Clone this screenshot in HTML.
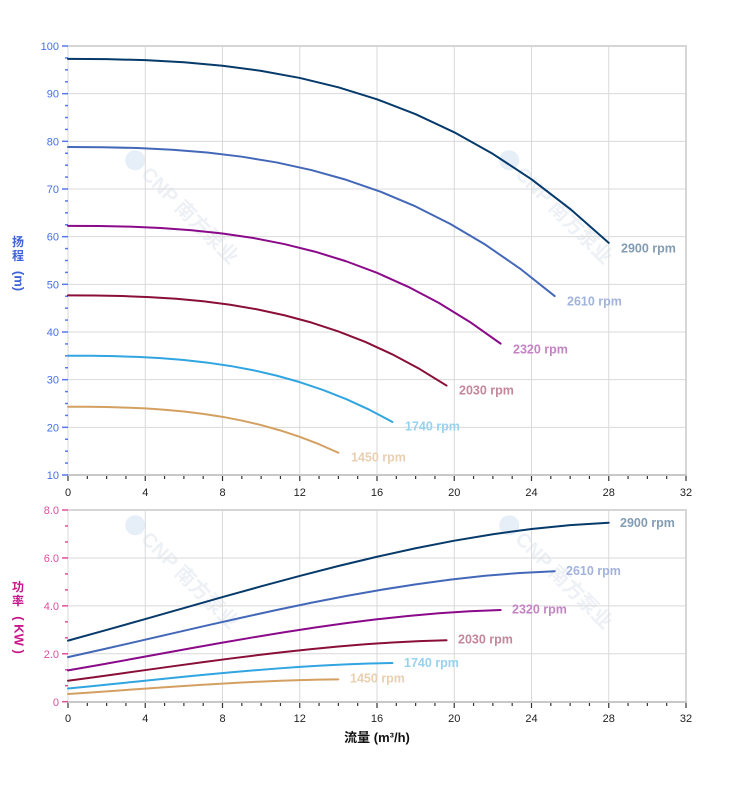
<!DOCTYPE html>
<html><head><meta charset="utf-8"><style>
html,body{margin:0;padding:0;background:#fff;}
svg{display:block;}
text{font-family:"Liberation Sans","Noto Sans CJK SC",sans-serif;}
</style></head><body>
<svg width="752" height="797" viewBox="0 0 752 797" xmlns="http://www.w3.org/2000/svg">
<rect width="752" height="797" fill="#fff"/>

<!-- watermarks -->
<g fill="#edf1f6" font-weight="bold" font-size="20">
  <g transform="translate(126,161) rotate(45)"><circle cx="6" cy="-7" r="10" fill="#e6eff8"/><text x="20" y="0">CNP 南方泵业</text></g>
  <g transform="translate(500,161) rotate(45)"><circle cx="6" cy="-7" r="10" fill="#e6eff8"/><text x="20" y="0">CNP 南方泵业</text></g>
  <g transform="translate(126,526) rotate(45)"><circle cx="6" cy="-7" r="10" fill="#e6eff8"/><text x="20" y="0">CNP 南方泵业</text></g>
  <g transform="translate(500,526) rotate(45)"><circle cx="6" cy="-7" r="10" fill="#e6eff8"/><text x="20" y="0">CNP 南方泵业</text></g>
</g>

<!-- TOP grid -->
<g stroke="#d9d9d9" stroke-width="1">
  <line x1="68" y1="93.67" x2="686" y2="93.67"/>
  <line x1="68" y1="141.33" x2="686" y2="141.33"/>
  <line x1="68" y1="189" x2="686" y2="189"/>
  <line x1="68" y1="236.67" x2="686" y2="236.67"/>
  <line x1="68" y1="284.33" x2="686" y2="284.33"/>
  <line x1="68" y1="332" x2="686" y2="332"/>
  <line x1="68" y1="379.67" x2="686" y2="379.67"/>
  <line x1="68" y1="427.33" x2="686" y2="427.33"/>
  <line x1="68" y1="46" x2="68" y2="475"/>
  <line x1="145.25" y1="46" x2="145.25" y2="475"/>
  <line x1="222.5" y1="46" x2="222.5" y2="475"/>
  <line x1="299.75" y1="46" x2="299.75" y2="475"/>
  <line x1="377" y1="46" x2="377" y2="475"/>
  <line x1="454.25" y1="46" x2="454.25" y2="475"/>
  <line x1="531.5" y1="46" x2="531.5" y2="475"/>
  <line x1="608.75" y1="46" x2="608.75" y2="475"/>
</g>
<g stroke="#d6d6d6" stroke-width="2" fill="none">
  <line x1="68" y1="46" x2="687" y2="46"/>
  <line x1="686" y1="46" x2="686" y2="475"/>
  <line x1="67" y1="475" x2="687" y2="475" stroke="#c8c8c8"/>
</g>

<!-- BOTTOM grid -->
<g stroke="#d9d9d9" stroke-width="1">
  <line x1="68" y1="557.94" x2="686" y2="557.94"/>
  <line x1="68" y1="605.86" x2="686" y2="605.86"/>
  <line x1="68" y1="653.78" x2="686" y2="653.78"/>
  <line x1="68" y1="510" x2="68" y2="702"/>
  <line x1="145.25" y1="510" x2="145.25" y2="702"/>
  <line x1="222.5" y1="510" x2="222.5" y2="702"/>
  <line x1="299.75" y1="510" x2="299.75" y2="702"/>
  <line x1="377" y1="510" x2="377" y2="702"/>
  <line x1="454.25" y1="510" x2="454.25" y2="702"/>
  <line x1="531.5" y1="510" x2="531.5" y2="702"/>
  <line x1="608.75" y1="510" x2="608.75" y2="702"/>
</g>
<g stroke="#d6d6d6" stroke-width="2" fill="none">
  <line x1="68" y1="510" x2="687" y2="510"/>
  <line x1="686" y1="510" x2="686" y2="702"/>
  <line x1="67" y1="702" x2="687" y2="702" stroke="#c8c8c8"/>
</g>

<!-- TOP y ticks -->
<g stroke="#5a78ea" stroke-width="1.5">
  <line x1="62" y1="46" x2="68" y2="46"/><line x1="65" y1="57.92" x2="68" y2="57.92"/><line x1="65" y1="69.83" x2="68" y2="69.83"/><line x1="65" y1="81.75" x2="68" y2="81.75"/>
  <line x1="62" y1="93.67" x2="68" y2="93.67"/><line x1="65" y1="105.58" x2="68" y2="105.58"/><line x1="65" y1="117.5" x2="68" y2="117.5"/><line x1="65" y1="129.42" x2="68" y2="129.42"/>
  <line x1="62" y1="141.33" x2="68" y2="141.33"/><line x1="65" y1="153.25" x2="68" y2="153.25"/><line x1="65" y1="165.17" x2="68" y2="165.17"/><line x1="65" y1="177.08" x2="68" y2="177.08"/>
  <line x1="62" y1="189" x2="68" y2="189"/><line x1="65" y1="200.92" x2="68" y2="200.92"/><line x1="65" y1="212.83" x2="68" y2="212.83"/><line x1="65" y1="224.75" x2="68" y2="224.75"/>
  <line x1="62" y1="236.67" x2="68" y2="236.67"/><line x1="65" y1="248.58" x2="68" y2="248.58"/><line x1="65" y1="260.5" x2="68" y2="260.5"/><line x1="65" y1="272.42" x2="68" y2="272.42"/>
  <line x1="62" y1="284.33" x2="68" y2="284.33"/><line x1="65" y1="296.25" x2="68" y2="296.25"/><line x1="65" y1="308.17" x2="68" y2="308.17"/><line x1="65" y1="320.08" x2="68" y2="320.08"/>
  <line x1="62" y1="332" x2="68" y2="332"/><line x1="65" y1="343.92" x2="68" y2="343.92"/><line x1="65" y1="355.83" x2="68" y2="355.83"/><line x1="65" y1="367.75" x2="68" y2="367.75"/>
  <line x1="62" y1="379.67" x2="68" y2="379.67"/><line x1="65" y1="391.58" x2="68" y2="391.58"/><line x1="65" y1="403.5" x2="68" y2="403.5"/><line x1="65" y1="415.42" x2="68" y2="415.42"/>
  <line x1="62" y1="427.33" x2="68" y2="427.33"/><line x1="65" y1="439.25" x2="68" y2="439.25"/><line x1="65" y1="451.17" x2="68" y2="451.17"/><line x1="65" y1="463.08" x2="68" y2="463.08"/>
  <line x1="62" y1="475" x2="68" y2="475"/>
</g>
<g fill="#4a6ee8" font-size="11" text-anchor="end">
  <text x="59" y="50">100</text><text x="59" y="97.7">90</text><text x="59" y="145.3">80</text><text x="59" y="193">70</text>
  <text x="59" y="240.7">60</text><text x="59" y="288.3">50</text><text x="59" y="336">40</text><text x="59" y="383.7">30</text>
  <text x="59" y="431.3">20</text><text x="59" y="479">10</text>
</g>

<!-- BOTTOM y ticks -->
<g stroke="#e0509a" stroke-width="1.5">
  <line x1="62" y1="510" x2="68" y2="510"/><line x1="65" y1="525.97" x2="68" y2="525.97"/><line x1="65" y1="541.95" x2="68" y2="541.95"/>
  <line x1="62" y1="557.94" x2="68" y2="557.94"/><line x1="65" y1="573.91" x2="68" y2="573.91"/><line x1="65" y1="589.88" x2="68" y2="589.88"/>
  <line x1="62" y1="605.86" x2="68" y2="605.86"/><line x1="65" y1="621.83" x2="68" y2="621.83"/><line x1="65" y1="637.8" x2="68" y2="637.8"/>
  <line x1="62" y1="653.78" x2="68" y2="653.78"/><line x1="65" y1="669.75" x2="68" y2="669.75"/><line x1="65" y1="685.72" x2="68" y2="685.72"/>
  <line x1="62" y1="701.7" x2="68" y2="701.7"/>
</g>
<g fill="#de4f9b" font-size="11" text-anchor="end">
  <text x="59" y="514">8.0</text><text x="59" y="562">6.0</text><text x="59" y="610">4.0</text><text x="59" y="658">2.0</text><text x="59" y="706">0</text>
</g>

<!-- X ticks top -->
<g stroke="#333" stroke-width="1.2">
  <line x1="68" y1="476" x2="68" y2="481"/><line x1="87.31" y1="476" x2="87.31" y2="479"/><line x1="106.63" y1="476" x2="106.63" y2="479"/><line x1="125.94" y1="476" x2="125.94" y2="479"/>
  <line x1="145.25" y1="476" x2="145.25" y2="481"/><line x1="164.56" y1="476" x2="164.56" y2="479"/><line x1="183.88" y1="476" x2="183.88" y2="479"/><line x1="203.19" y1="476" x2="203.19" y2="479"/>
  <line x1="222.5" y1="476" x2="222.5" y2="481"/><line x1="241.81" y1="476" x2="241.81" y2="479"/><line x1="261.13" y1="476" x2="261.13" y2="479"/><line x1="280.44" y1="476" x2="280.44" y2="479"/>
  <line x1="299.75" y1="476" x2="299.75" y2="481"/><line x1="319.06" y1="476" x2="319.06" y2="479"/><line x1="338.38" y1="476" x2="338.38" y2="479"/><line x1="357.69" y1="476" x2="357.69" y2="479"/>
  <line x1="377" y1="476" x2="377" y2="481"/><line x1="396.31" y1="476" x2="396.31" y2="479"/><line x1="415.63" y1="476" x2="415.63" y2="479"/><line x1="434.94" y1="476" x2="434.94" y2="479"/>
  <line x1="454.25" y1="476" x2="454.25" y2="481"/><line x1="473.56" y1="476" x2="473.56" y2="479"/><line x1="492.88" y1="476" x2="492.88" y2="479"/><line x1="512.19" y1="476" x2="512.19" y2="479"/>
  <line x1="531.5" y1="476" x2="531.5" y2="481"/><line x1="550.81" y1="476" x2="550.81" y2="479"/><line x1="570.13" y1="476" x2="570.13" y2="479"/><line x1="589.44" y1="476" x2="589.44" y2="479"/>
  <line x1="608.75" y1="476" x2="608.75" y2="481"/><line x1="628.06" y1="476" x2="628.06" y2="479"/><line x1="647.38" y1="476" x2="647.38" y2="479"/><line x1="666.69" y1="476" x2="666.69" y2="479"/>
  <line x1="686" y1="476" x2="686" y2="481"/>
</g>
<g stroke="#333" stroke-width="1.2" transform="translate(0,227)">
  <line x1="68" y1="476" x2="68" y2="481"/><line x1="87.31" y1="476" x2="87.31" y2="479"/><line x1="106.63" y1="476" x2="106.63" y2="479"/><line x1="125.94" y1="476" x2="125.94" y2="479"/>
  <line x1="145.25" y1="476" x2="145.25" y2="481"/><line x1="164.56" y1="476" x2="164.56" y2="479"/><line x1="183.88" y1="476" x2="183.88" y2="479"/><line x1="203.19" y1="476" x2="203.19" y2="479"/>
  <line x1="222.5" y1="476" x2="222.5" y2="481"/><line x1="241.81" y1="476" x2="241.81" y2="479"/><line x1="261.13" y1="476" x2="261.13" y2="479"/><line x1="280.44" y1="476" x2="280.44" y2="479"/>
  <line x1="299.75" y1="476" x2="299.75" y2="481"/><line x1="319.06" y1="476" x2="319.06" y2="479"/><line x1="338.38" y1="476" x2="338.38" y2="479"/><line x1="357.69" y1="476" x2="357.69" y2="479"/>
  <line x1="377" y1="476" x2="377" y2="481"/><line x1="396.31" y1="476" x2="396.31" y2="479"/><line x1="415.63" y1="476" x2="415.63" y2="479"/><line x1="434.94" y1="476" x2="434.94" y2="479"/>
  <line x1="454.25" y1="476" x2="454.25" y2="481"/><line x1="473.56" y1="476" x2="473.56" y2="479"/><line x1="492.88" y1="476" x2="492.88" y2="479"/><line x1="512.19" y1="476" x2="512.19" y2="479"/>
  <line x1="531.5" y1="476" x2="531.5" y2="481"/><line x1="550.81" y1="476" x2="550.81" y2="479"/><line x1="570.13" y1="476" x2="570.13" y2="479"/><line x1="589.44" y1="476" x2="589.44" y2="479"/>
  <line x1="608.75" y1="476" x2="608.75" y2="481"/><line x1="628.06" y1="476" x2="628.06" y2="479"/><line x1="647.38" y1="476" x2="647.38" y2="479"/><line x1="666.69" y1="476" x2="666.69" y2="479"/>
  <line x1="686" y1="476" x2="686" y2="481"/>
</g>

<g fill="#222" font-size="11" text-anchor="middle">
  <text x="68" y="496">0</text><text x="145.25" y="496">4</text><text x="222.5" y="496">8</text><text x="299.75" y="496">12</text>
  <text x="377" y="496">16</text><text x="454.25" y="496">20</text><text x="531.5" y="496">24</text><text x="608.75" y="496">28</text><text x="686" y="496">32</text>
</g>
<g fill="#222" font-size="11" text-anchor="middle">
  <text x="68" y="722">0</text><text x="145.25" y="722">4</text><text x="222.5" y="722">8</text><text x="299.75" y="722">12</text>
  <text x="377" y="722">16</text><text x="454.25" y="722">20</text><text x="531.5" y="722">24</text><text x="608.75" y="722">28</text><text x="686" y="722">32</text>
</g>

<!-- axis titles -->
<g fill="#3d63d8" font-weight="bold" font-size="12" text-anchor="middle">
  <text x="18" y="246">扬</text>
  <text x="18" y="260">程</text>
  <text x="18" y="281" font-size="13" transform="rotate(90 18 281)" dominant-baseline="middle">(m)</text>
</g>
<g fill="#c8168a" font-weight="bold" font-size="12" text-anchor="middle">
  <text x="18" y="591">功</text>
  <text x="18" y="605">率</text>
  <text x="18" y="635" font-size="13" transform="rotate(90 18 635)" dominant-baseline="middle">( KW )</text>
</g>
<text x="377" y="742" font-size="13" font-weight="bold" fill="#111" text-anchor="middle">流量 (m³/h)</text>

<!-- HEAD curves -->
<g fill="none" stroke-width="2" stroke-linejoin="round" stroke-linecap="round">
  <polyline stroke="#063a6a" points="68,58.87 106.63,59.14 145.25,60.16 183.88,62.26 222.5,65.71 261.13,70.84 299.75,77.94 338.38,87.33 377,99.32 415.63,114.2 454.25,132.3 492.88,153.9 531.5,179.3 570.13,208.9 608.75,242.9"/>
  <polyline stroke="#4468b8" points="68,146.99 102.77,147.21 137.53,148.04 172.29,149.74 207.05,152.53 241.82,156.69 276.58,162.44 311.34,170.04 346.1,179.76 380.87,191.81 415.63,206.47 450.39,223.97 485.15,244.54 519.92,268.52 554.68,296.06"/>
  <polyline stroke="#8a0a8a" points="68,225.84 98.9,226.01 129.8,226.66 160.7,228.01 191.6,230.22 222.5,233.5 253.4,238.04 284.3,244.05 315.2,251.73 346.1,261.25 377,272.83 407.9,286.66 438.8,302.91 469.7,321.86 500.6,343.62"/>
  <polyline stroke="#8a0f38" points="68,295.41 95.04,295.54 122.08,296.04 149.12,297.07 176.15,298.76 203.19,301.27 230.23,304.75 257.27,309.35 284.3,315.23 311.34,322.52 338.38,331.39 365.42,341.97 392.45,354.42 419.49,368.92 446.53,385.58"/>
  <polyline stroke="#30a5e0" points="68,355.7 91.18,355.8 114.35,356.17 137.53,356.92 160.7,358.16 183.88,360.01 207.05,362.57 230.23,365.95 253.4,370.26 276.58,375.62 299.75,382.14 322.93,389.91 346.1,399.06 369.28,409.71 392.45,421.95"/>
  <polyline stroke="#d4a062" points="68,406.72 87.31,406.79 106.63,407.04 125.94,407.57 145.25,408.43 164.56,409.71 183.88,411.49 203.19,413.83 222.5,416.83 241.81,420.55 261.13,425.08 280.44,430.48 299.75,436.83 319.06,444.23 338.38,452.73"/>
</g>

<!-- POWER curves -->
<g fill="none" stroke-width="2" stroke-linejoin="round" stroke-linecap="round">
  <polyline stroke="#063a6a" points="68,640.6 106.63,629.94 145.25,619.04 183.88,608.04 222.5,597.09 261.13,586.34 299.75,575.94 338.38,566.02 377,556.75 415.63,548.26 454.25,540.7 492.88,534.22 531.5,528.97 570.13,525.09 608.75,522.72"/>
  <polyline stroke="#4468b8" points="68,657.16 102.77,649.39 137.53,641.44 172.29,633.42 207.05,625.44 241.82,617.6 276.58,610.02 311.34,602.79 346.1,596.03 380.87,589.84 415.63,584.33 450.39,579.61 485.15,575.78 519.92,572.95 554.68,571.22"/>
  <polyline stroke="#8a0a8a" points="68,670.42 98.9,664.96 129.8,659.38 160.7,653.75 191.6,648.14 222.5,642.64 253.4,637.31 284.3,632.23 315.2,627.49 346.1,623.14 377,619.27 407.9,615.95 438.8,613.26 469.7,611.28 500.6,610.06"/>
  <polyline stroke="#8a0f38" points="68,680.74 95.04,677.09 122.08,673.35 149.12,669.57 176.15,665.82 203.19,662.13 230.23,658.56 257.27,655.16 284.3,651.98 311.34,649.07 338.38,646.48 365.42,644.25 392.45,642.45 419.49,641.12 446.53,640.31"/>
  <polyline stroke="#30a5e0" points="68,688.5 91.18,686.2 114.35,683.85 137.53,681.47 160.7,679.1 183.88,676.78 207.05,674.54 230.23,672.39 253.4,670.39 276.58,668.56 299.75,666.92 322.93,665.52 346.1,664.39 369.28,663.55 392.45,663.04"/>
  <polyline stroke="#d4a062" points="68,694.06 87.31,692.73 106.63,691.37 125.94,689.99 145.25,688.62 164.56,687.28 183.88,685.98 203.19,684.74 222.5,683.58 241.81,682.52 261.13,681.57 280.44,680.76 299.75,680.11 319.06,679.62 338.38,679.33"/>
</g>

<!-- rpm labels -->
<g font-size="12.5" font-weight="bold">
  <text x="621" y="252.5" fill="#829cb4">2900 rpm</text>
  <text x="567" y="305.5" fill="#a1b3db">2610 rpm</text>
  <text x="513" y="353.5" fill="#c484c4">2320 rpm</text>
  <text x="459" y="394.5" fill="#c4879b">2030 rpm</text>
  <text x="405" y="430.5" fill="#97d2ef">1740 rpm</text>
  <text x="351" y="461.5" fill="#e9cfb0">1450 rpm</text>

  <text x="620" y="527" fill="#829cb4">2900 rpm</text>
  <text x="566" y="575" fill="#a1b3db">2610 rpm</text>
  <text x="512" y="613.5" fill="#c484c4">2320 rpm</text>
  <text x="458" y="643.5" fill="#c4879b">2030 rpm</text>
  <text x="404" y="667" fill="#97d2ef">1740 rpm</text>
  <text x="350" y="682.5" fill="#e9cfb0">1450 rpm</text>
</g>
</svg>
</body></html>
